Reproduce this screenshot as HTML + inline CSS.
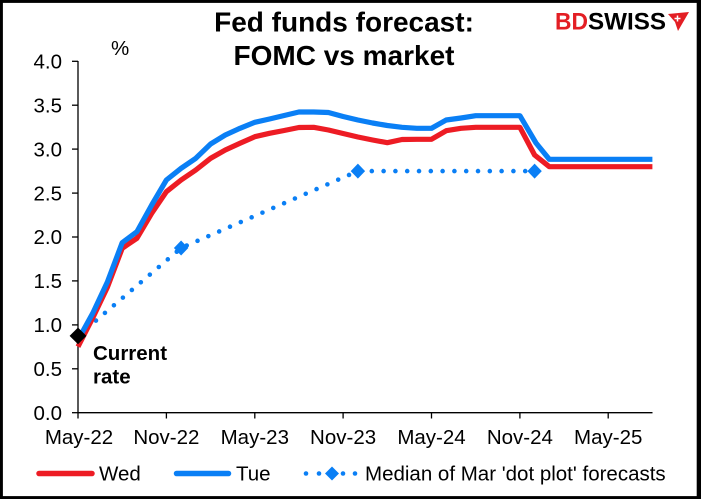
<!DOCTYPE html>
<html><head><meta charset="utf-8"><style>
html,body{margin:0;padding:0;background:#fff;}
svg{display:block;}
text{font-family:"Liberation Sans",Arial,sans-serif;}
</style></head><body>
<svg width="701" height="499" viewBox="0 0 701 499" xmlns="http://www.w3.org/2000/svg">
<rect x="0" y="0" width="701" height="499" fill="#fff"/>
<rect x="1.4" y="1.4" width="696.8" height="496.2" fill="none" stroke="#000" stroke-width="3"/>
<rect x="697" y="0" width="4" height="499" fill="#000"/>

<!-- Title -->
<text x="344" y="31.5" font-size="28" font-weight="bold" text-anchor="middle" fill="#000">Fed funds forecast:</text>
<text x="344" y="65" font-size="28" font-weight="bold" text-anchor="middle" fill="#000">FOMC vs market</text>

<!-- Logo -->
<text x="555" y="29.5" font-size="24" font-weight="bold" fill="#e31e24" textLength="33" lengthAdjust="spacingAndGlyphs">BD</text>
<text x="588" y="29.5" font-size="24" font-weight="bold" fill="#000" textLength="78" lengthAdjust="spacingAndGlyphs">SWISS</text>
<polygon points="668,14 689,12 678,31 675,22" fill="#e31e24"/>
<path d="M677.5,15.5 v6 M674.5,18.5 h6" stroke="#fff" stroke-width="1.5"/>

<!-- % -->
<text x="111" y="55" font-size="20.5" fill="#000">%</text>

<!-- Y axis -->
<g stroke="#000" stroke-width="1.3">
<line x1="78" y1="61" x2="78" y2="413"/>
<line x1="72" y1="61.3" x2="78" y2="61.3"/>
<line x1="72" y1="105.2" x2="78" y2="105.2"/>
<line x1="72" y1="149.1" x2="78" y2="149.1"/>
<line x1="72" y1="193.1" x2="78" y2="193.1"/>
<line x1="72" y1="237" x2="78" y2="237"/>
<line x1="72" y1="280.9" x2="78" y2="280.9"/>
<line x1="72" y1="324.9" x2="78" y2="324.9"/>
<line x1="72" y1="368.8" x2="78" y2="368.8"/>
<line x1="72" y1="412.7" x2="78" y2="412.7"/>
<!-- X axis -->
<line x1="78" y1="412.7" x2="652.5" y2="412.7"/>
<line x1="78" y1="412.7" x2="78" y2="418.5"/>
<line x1="166.4" y1="412.7" x2="166.4" y2="418.5"/>
<line x1="254.8" y1="412.7" x2="254.8" y2="418.5"/>
<line x1="343.1" y1="412.7" x2="343.1" y2="418.5"/>
<line x1="431.5" y1="412.7" x2="431.5" y2="418.5"/>
<line x1="519.9" y1="412.7" x2="519.9" y2="418.5"/>
<line x1="608.2" y1="412.7" x2="608.2" y2="418.5"/>
</g>

<g font-size="20.5" fill="#000" text-anchor="end">
<text x="62" y="68.5">4.0</text>
<text x="62" y="112.4">3.5</text>
<text x="62" y="156.3">3.0</text>
<text x="62" y="200.3">2.5</text>
<text x="62" y="244.2">2.0</text>
<text x="62" y="288.1">1.5</text>
<text x="62" y="332.1">1.0</text>
<text x="62" y="376">0.5</text>
<text x="62" y="419.9">0.0</text>
</g>
<g font-size="20.5" fill="#000" text-anchor="middle">
<text x="79" y="444">May-22</text>
<text x="166.4" y="444">Nov-22</text>
<text x="254.8" y="444">May-23</text>
<text x="343.1" y="444">Nov-23</text>
<text x="431.5" y="444">May-24</text>
<text x="519.9" y="444">Nov-24</text>
<text x="608.2" y="444">May-25</text>
</g>

<!-- Dotted FOMC line -->
<path d="M78,335.9 L181.1,248 L357.9,171.1 L534.6,171.1" fill="none" stroke="#0a7ff5" stroke-width="4.6" stroke-linecap="round" stroke-dasharray="0 11.8"/>
<polygon points="181.1,240.5 188.3,248 181.1,255.5 173.9,248" fill="#0a7ff5"/>
<polygon points="357.9,163.6 365.1,171.1 357.9,178.6 350.7,171.1" fill="#0a7ff5"/>
<polygon points="534.6,163.6 541.8,171.1 534.6,178.6 527.4,171.1" fill="#0a7ff5"/>

<!-- Wed (red) -->
<polyline fill="none" stroke="#ed1c24" stroke-width="5.2" stroke-linejoin="round" points="78,346.7 92.7,318 107.5,287 122.2,248.3 136.9,238.3 151.7,213.3 166.4,191.7 181.1,180 195.8,170 210.6,158.3 225.3,150 240,143.3 254.8,136.7 269.5,133.3 284.2,130.5 298.9,127.5 313.7,127.3 328.4,130 343.1,133.5 357.9,137 372.6,140 387.3,142.7 402,139.5 416.8,139.3 431.5,139.3 446.2,130.7 461,128.3 475.7,127.3 490.4,127.3 505.1,127.3 519.9,127.3 534.6,155 549.3,166.7 564,166.7 578.8,166.7 593.5,166.7 608.2,166.7 623,166.7 637.7,166.7 652.4,166.7"/>

<!-- Tue (blue) -->
<polyline fill="none" stroke="#0a7ff5" stroke-width="5.2" stroke-linejoin="round" points="78,340 92.7,313.3 107.5,281.7 122.2,242.7 136.9,231.7 151.7,205 166.4,180 181.1,168.3 195.8,158.3 210.6,144 225.3,135 240,128.3 254.8,122.3 269.5,119 284.2,115.5 298.9,112 313.7,112 328.4,112.5 343.1,116.5 357.9,120 372.6,123 387.3,125.5 402,127.3 416.8,128.3 431.5,128.3 446.2,120 461,118 475.7,115.7 490.4,115.7 505.1,115.7 519.9,115.7 536,143 549.3,159.3 564,159.3 578.8,159.3 593.5,159.3 608.2,159.3 623,159.3 637.7,159.3 652.4,159.3"/>

<!-- Current rate marker -->
<polygon points="78,327.5 86.4,335.9 78,344.3 69.6,335.9" fill="#000"/>
<text x="93" y="360" font-size="20.5" font-weight="bold" fill="#000">Current</text>
<text x="93" y="383.5" font-size="20.5" font-weight="bold" fill="#000">rate</text>

<!-- Legend -->
<line x1="39" y1="473.5" x2="92" y2="473.5" stroke="#ed1c24" stroke-width="5.5" stroke-linecap="round"/>
<text x="99" y="480.5" font-size="20.5" fill="#000">Wed</text>
<line x1="176.5" y1="473.5" x2="228.5" y2="473.5" stroke="#0a7ff5" stroke-width="5.5" stroke-linecap="round"/>
<text x="236" y="480.5" font-size="20.5" fill="#000">Tue</text>
<g fill="#0a7ff5">
<circle cx="306" cy="473.5" r="2.3"/>
<circle cx="319" cy="473.5" r="2.3"/>
<polygon points="332,466.5 339,473.5 332,480.5 325,473.5"/>
<circle cx="343" cy="473.5" r="2.3"/>
<circle cx="355" cy="473.5" r="2.3"/>
</g>
<text x="365" y="480.5" font-size="20.5" fill="#000">Median of Mar 'dot plot' forecasts</text>
</svg>
</body></html>
